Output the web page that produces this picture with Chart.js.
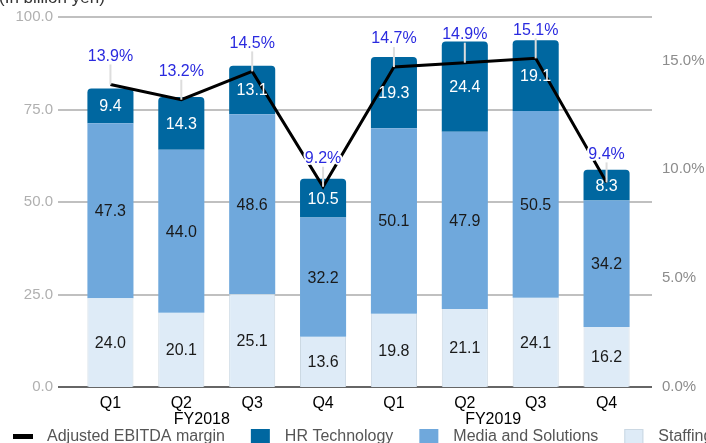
<!DOCTYPE html>
<html>
<head>
<meta charset="utf-8">
<script src="https://cdn.jsdelivr.net/npm/chart.js@4"></script>
<style>
  body { margin: 0; background: #fff; overflow: hidden; }
  #wrap { width: 706px; height: 443px; position: relative; }
</style>
</head>
<body>
<div id="wrap"><canvas id="revenue-chart"></canvas></div>
<script>
// Chart data
var quarters = ["Q1", "Q2", "Q3", "Q4", "Q1", "Q2", "Q3", "Q4"];
var fiscalYears = ["FY2018", "FY2019"];
var staffing = [24.0, 20.1, 25.1, 13.6, 19.8, 21.1, 24.1, 16.2];
var mediaSolutions = [47.3, 44.0, 48.6, 32.2, 50.1, 47.9, 50.5, 34.2];
var hrTechnology = [9.4, 14.3, 13.1, 10.5, 19.3, 24.4, 19.1, 8.3];
var ebitdaMargin = [13.9, 13.2, 14.5, 9.2, 14.7, 14.9, 15.1, 9.4];

var FONT = "'Liberation Sans', Arial, sans-serif";

// gridlines run a bit wider than the bar area
var gridPlugin = {
    id: "gridLines",
    beforeDatasetsDraw: function(chart) {
        var ctx = chart.ctx;
        var ys = chart.scales.y;
        var area = chart.chartArea;
        ctx.save();
        ys.ticks.forEach(function(t) {
            var py = Math.round(ys.getPixelForValue(t.value));
            ctx.beginPath();
            ctx.lineWidth = 2;
            ctx.strokeStyle = t.value === 0 ? "#666666" : "#c0c0c0";
            ctx.moveTo(area.left - 17, py);
            ctx.lineTo(area.right + 10, py);
            ctx.stroke();
        });
        ctx.restore();
    }
};

// value labels, fiscal year labels, legend, unit text
var labelPlugin = {
    id: "labels",
    afterDatasetsDraw: function(chart) {
        var ctx = chart.ctx;
        ctx.save();
        ctx.font = "16px " + FONT;
        ctx.textAlign = "center";
        ctx.textBaseline = "middle";

        // bar values
        chart.data.datasets.forEach(function(ds, di) {
            if (ds.type === "line") return;
            var meta = chart.getDatasetMeta(di);
            meta.data.forEach(function(bar, i) {
                var cy = (bar.y + bar.base) / 2;
                ctx.fillStyle = ds.labelColor;
                ctx.fillText(ds.data[i].toFixed(1), bar.x, cy + 1);
            });
        });

        // margin labels above the line
        var lineMeta = chart.getDatasetMeta(0);
        lineMeta.data.forEach(function(pt, i) {
            ctx.beginPath();
            ctx.strokeStyle = "#dddddd";
            ctx.lineWidth = 2;
            ctx.moveTo(pt.x, pt.y);
            ctx.lineTo(pt.x, pt.y - 20);
            ctx.stroke();
            var txt = ebitdaMargin[i].toFixed(1) + "%";
            ctx.lineWidth = 4;
            ctx.strokeStyle = "#ffffff";
            ctx.lineJoin = "round";
            ctx.strokeText(txt, pt.x, pt.y - 28);
            ctx.fillStyle = "#2a2adf";
            ctx.fillText(txt, pt.x, pt.y - 28);
        });
        ctx.restore();
    },
    afterDraw: function(chart) {
        var ctx = chart.ctx;
        var xs = chart.scales.x;
        ctx.save();
        ctx.font = "16px " + FONT;
        ctx.textBaseline = "middle";

        // fiscal year labels
        ctx.fillStyle = "#000000";
        ctx.textAlign = "center";
        var p1 = xs.getPixelForValue(1), p2 = xs.getPixelForValue(2);
        ctx.fillText(fiscalYears[0], p1 + (p2 - p1) * 0.29, 420);
        var p5 = xs.getPixelForValue(5), p6 = xs.getPixelForValue(6);
        ctx.fillText(fiscalYears[1], p5 + (p6 - p5) * 0.4, 420);

        // legend
        var ds = chart.data.datasets;
        var items = [ds[0], ds[3], ds[2], ds[1]];
        var x = 13;
        ctx.textAlign = "left";
        items.forEach(function(d) {
            if (d.type === "line") {
                ctx.fillStyle = "#000000";
                ctx.fillRect(x, 434, 20, 5);
            } else {
                ctx.fillStyle = d.backgroundColor;
                ctx.fillRect(x, 429, 19, 19);
                if (d.legendBorder) {
                    ctx.strokeStyle = d.legendBorder;
                    ctx.lineWidth = 1;
                    ctx.strokeRect(x + 0.5, 429.5, 18, 18);
                }
            }
            ctx.fillStyle = "#555555";
            ctx.fillText(d.label, x + 34, 437);
            x += 34 + ctx.measureText(d.label).width + 26;
        });

        // unit text, mostly cut off at the top
        ctx.font = "17px " + FONT;
        ctx.fillStyle = "#333333";
        ctx.textBaseline = "alphabetic";
        ctx.fillText("(In billion yen)", -1, 3);
        ctx.restore();
    }
};

var ctx = document.getElementById("revenue-chart");

var chartData = {
    labels: quarters,
    datasets: [{
        type: "line",
        label: "Adjusted EBITDA margin",
        data: ebitdaMargin,
        yAxisID: "y1",
        borderColor: "#000000",
        borderWidth: 3,
        pointRadius: 0,
        tension: 0
    }, {
        label: "Staffing",
        data: staffing,
        yAxisID: "y",
        backgroundColor: "#deebf7",
        borderColor: "#cbd8e3",
        borderWidth: {left: 1, right: 1, top: 0, bottom: 0},
        legendBorder: "#cbd8e3",
        labelColor: "#1a1a1a"
    }, {
        label: "Media and Solutions",
        data: mediaSolutions,
        yAxisID: "y",
        backgroundColor: "#6fa8dc",
        borderWidth: 0,
        labelColor: "#1a1a1a"
    }, {
        label: "HR Technology",
        data: hrTechnology,
        yAxisID: "y",
        backgroundColor: "#0067a0",
        borderWidth: 0,
        borderRadius: {topLeft: 4, topRight: 4, bottomLeft: 0, bottomRight: 0},
        borderSkipped: false,
        labelColor: "#ffffff"
    }]
};

var config = {
    type: "bar",
    data: chartData,
    options: {
        responsive: true,
        maintainAspectRatio: false,
        animation: false,
        layout: {padding: {top: 17, left: 0, right: 0, bottom: 0}},
        datasets: {
            bar: {barPercentage: 0.65, categoryPercentage: 1}
        },
        plugins: {
            legend: {display: false},
            tooltip: {enabled: false}
        },
        scales: {
            x: {
                stacked: true,
                offset: true,
                grid: {display: false, drawTicks: false},
                border: {display: false},
                ticks: {color: "#000000", font: {size: 16, family: FONT}, padding: 7, maxRotation: 0},
                afterFit: function(s) { s.height = 56; s.paddingLeft = 0; s.paddingRight = 0; }
            },
            y: {
                stacked: true,
                position: "left",
                min: 0,
                max: 100,
                grid: {display: false, drawTicks: false},
                border: {display: false},
                ticks: {
                    stepSize: 25,
                    color: "#b0b0b0",
                    padding: 22,
                    font: {size: 15, family: FONT},
                    callback: function(v) { return v.toFixed(1); }
                },
                afterFit: function(s) { s.width = 75; s.paddingTop = 0; s.paddingBottom = 0; }
            },
            y1: {
                position: "right",
                min: 0,
                max: 17,
                grid: {display: false, drawTicks: false},
                border: {display: false},
                ticks: {
                    stepSize: 5,
                    color: "#8c8c8c",
                    padding: 20,
                    font: {size: 15, family: FONT},
                    callback: function(v) { return v.toFixed(1) + "%"; }
                },
                afterBuildTicks: function(s) {
                    s.ticks = s.ticks.filter(function(t) { return t.value % 5 === 0; });
                },
                afterFit: function(s) { s.width = 64; s.paddingTop = 0; s.paddingBottom = 0; }
            }
        }
    },
    plugins: [gridPlugin, labelPlugin]
};

// Create the chart
var comboChart = new Chart(ctx, config);
</script>
</body>
</html>
